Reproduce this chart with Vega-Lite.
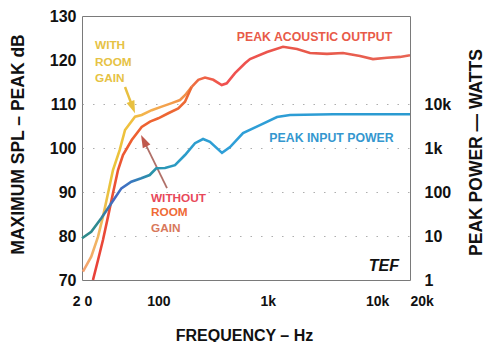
{
  "$schema": "https://vega.github.io/schema/vega-lite/v6.json",
  "width": 328,
  "height": 264,
  "autosize": {"type": "none"},
  "padding": {"left": 82, "top": 16, "right": 74, "bottom": 62},
  "background": "white",
  "config": {
    "view": {"stroke": "#7a7a7a", "strokeWidth": 1},
    "font": "Liberation Sans",
    "axis": {
      "labelFont": "Liberation Sans", "labelFontWeight": "bold", "labelColor": "#111",
      "titleFont": "Liberation Sans", "titleFontWeight": "bold", "titleColor": "#111",
      "domain": false, "labelOverlap": false, "labelFlush": false
    },
    "text": {"font": "Liberation Sans", "fontWeight": "bold", "fontSize": 12}
  },
  "datasets": {
    "withGain": [
      {"freq": 20.4, "db": 71.9}, {"freq": 24.3, "db": 75.3}, {"freq": 28.0, "db": 79.8},
      {"freq": 31.1, "db": 84.4}, {"freq": 34.6, "db": 89.7}, {"freq": 38.4, "db": 95.0},
      {"freq": 44.2, "db": 99.5}, {"freq": 49.5, "db": 104.1}, {"freq": 61.1, "db": 107.1},
      {"freq": 70.3, "db": 107.5}, {"freq": 86.8, "db": 108.6}, {"freq": 107.2, "db": 109.4},
      {"freq": 132.3, "db": 110.2}, {"freq": 157.6, "db": 110.9}, {"freq": 175, "db": 112.0},
      {"freq": 201.6, "db": 113.9}
    ],
    "withoutGain": [
      {"freq": 25.2, "db": 70.0}, {"freq": 28.0, "db": 74.5}, {"freq": 31.1, "db": 79.1},
      {"freq": 34.6, "db": 84.4}, {"freq": 38.4, "db": 89.7}, {"freq": 42.7, "db": 95.0},
      {"freq": 47.4, "db": 98.4}, {"freq": 57.0, "db": 101.8}, {"freq": 70.3, "db": 104.8},
      {"freq": 83.8, "db": 106.0}, {"freq": 99.8, "db": 106.75}, {"freq": 123.1, "db": 107.9},
      {"freq": 152, "db": 109.0}, {"freq": 175, "db": 110.5}, {"freq": 201.6, "db": 113.9}
    ],
    "output": [
      {"freq": 201.6, "db": 113.9}, {"freq": 231.6, "db": 115.5}, {"freq": 266.8, "db": 116.0},
      {"freq": 317.6, "db": 115.5}, {"freq": 379.2, "db": 114.3}, {"freq": 421.4, "db": 114.7},
      {"freq": 501.6, "db": 117.0}, {"freq": 619.4, "db": 119.25}, {"freq": 688, "db": 120.2},
      {"freq": 984, "db": 121.8}, {"freq": 1379, "db": 123.0}, {"freq": 1852, "db": 122.5},
      {"freq": 2434, "db": 121.6}, {"freq": 3482, "db": 121.4}, {"freq": 4878, "db": 121.6},
      {"freq": 6978, "db": 120.9}, {"freq": 9174, "db": 120.2}, {"freq": 12324, "db": 120.5},
      {"freq": 16202, "db": 120.7}, {"freq": 20000, "db": 121.1}
    ],
    "input": [
      {"freq": 20, "watts": 8.87}, {"freq": 24.3, "watts": 12.5}, {"freq": 30.0, "watts": 25.2},
      {"freq": 37.1, "watts": 55.3}, {"freq": 45.8, "watts": 121}, {"freq": 56.5, "watts": 171},
      {"freq": 69.7, "watts": 205}, {"freq": 83.2, "watts": 243}, {"freq": 95.6, "watts": 346},
      {"freq": 114.9, "watts": 351}, {"freq": 141.8, "watts": 407}, {"freq": 175, "watts": 692},
      {"freq": 216, "watts": 1288}, {"freq": 256, "watts": 1603}, {"freq": 296, "watts": 1380},
      {"freq": 381.6, "watts": 776}, {"freq": 452, "watts": 1047}, {"freq": 594, "watts": 2188},
      {"freq": 849, "watts": 3311}, {"freq": 1215, "watts": 5070}, {"freq": 1598, "watts": 5623},
      {"freq": 3952, "watts": 5850}, {"freq": 20000, "watts": 5850}
    ],
    "centerLabels": [
      {"text": "PEAK ACOUSTIC OUTPUT", "key": "output", "freq": 2676, "db": 125.2},
      {"text": "PEAK INPUT POWER", "key": "input", "freq": 3830, "db": 102.2}
    ],
    "notes": [
      {"text": "WITH", "key": "with", "freq": 26.3, "db": 123.4},
      {"text": "ROOM", "key": "with", "freq": 26.3, "db": 119.55},
      {"text": "GAIN", "key": "with", "freq": 26.3, "db": 115.9},
      {"text": "WITHOUT", "key": "without", "freq": 85.5, "db": 88.75},
      {"text": "ROOM", "key": "room", "freq": 85.5, "db": 85.45},
      {"text": "GAIN", "key": "gain", "freq": 85.5, "db": 81.9}
    ],
    "brand": [{"text": "TEF", "freq": 15866, "db": 73.2}],
    "arrowWith": [{"freq": 49.5, "db": 113.86, "freq2": 57.9, "db2": 109.4}],
    "arrowWithout": [{"freq": 119.8, "db": 90.9, "freq2": 74.0, "db2": 101.5}]
  },
  "layer": [
    {
      "encoding": {
        "x": {
          "field": "freq", "type": "quantitative",
          "scale": {"type": "log", "domain": [20, 20000], "nice": false},
          "axis": {
            "values": [20, 100, 1000, 10000, 20000], "grid": false, "ticks": false,
            "labelExpr": "datum.value == 20 ? '2 0' : datum.value >= 1000 ? format(datum.value / 1000, 'd') + 'k' : format(datum.value, 'd')",
            "labelFontSize": 14, "labelPadding": 14,
            "labelAlign": {"condition": {"test": "datum.value == 20000", "value": "left"}, "value": "center"},
            "title": "FREQUENCY – Hz", "titleFontSize": 16,
            "titleX": 162, "titleY": 55, "titleBaseline": "middle", "titleAlign": "center"
          }
        },
        "y": {
          "field": "db", "type": "quantitative",
          "scale": {"domain": [70, 130], "nice": false, "zero": false},
          "axis": {
            "values": [70, 80, 90, 100, 110, 120, 130], "ticks": false,
            "grid": true, "gridDash": [1.5, 9], "gridColor": "#9a9a9a", "gridWidth": 1.2,
            "gridOpacity": {"condition": {"test": "datum.value >= 80 && datum.value <= 110", "value": 0.8}, "value": 0},
            "labelFontSize": 16, "labelPadding": 6,
            "title": "MAXIMUM SPL – PEAK dB", "titleFontSize": 17.5,
            "titleAngle": -90, "titleX": -64, "titleY": 128, "titleBaseline": "middle", "titleAlign": "center"
          }
        }
      },
      "layer": [
        {
          "data": {"name": "withGain"},
          "mark": {"type": "line", "strokeWidth": 2.6, "color": {"gradient": "linear", "x1": 0, "y1": 0, "x2": 1, "y2": 0,
            "stops": [{"offset": 0, "color": "#f4a070"}, {"offset": 0.15, "color": "#f0b860"}, {"offset": 0.25, "color": "#e9c43a"}, {"offset": 0.45, "color": "#f0c040"}, {"offset": 0.6, "color": "#f4b050"}, {"offset": 1, "color": "#f08a48"}]}}
        },
        {
          "data": {"name": "withoutGain"},
          "mark": {"type": "line", "strokeWidth": 2.6, "color": {"gradient": "linear", "x1": 0, "y1": 0, "x2": 1, "y2": 0,
            "stops": [{"offset": 0, "color": "#e8403a"}, {"offset": 0.4, "color": "#ee6030"}, {"offset": 1, "color": "#ec6a35"}]}}
        },
        {
          "data": {"name": "output"},
          "mark": {"type": "line", "strokeWidth": 2.6, "color": {"gradient": "linear", "x1": 0, "y1": 0, "x2": 1, "y2": 0,
            "stops": [{"offset": 0, "color": "#ee7040"}, {"offset": 0.15, "color": "#f05050"}, {"offset": 0.5, "color": "#e8584a"}, {"offset": 1, "color": "#e86454"}]}}
        },
        {
          "data": {"name": "arrowWith"},
          "mark": {"type": "rule", "color": "#e8c040", "strokeWidth": 2.5},
          "encoding": {"x2": {"field": "freq2"}, "y2": {"field": "db2"}}
        },
        {
          "data": {"name": "arrowWith"},
          "mark": {"type": "point", "filled": true, "opacity": 1, "color": "#e8c040", "shape": "M0,-1 L0.6,0.8 L-0.6,0.8 Z", "size": 196, "angle": 159},
          "encoding": {"x": {"field": "freq2", "type": "quantitative"}, "y": {"field": "db2", "type": "quantitative"}}
        },
        {
          "data": {"name": "arrowWithout"},
          "mark": {"type": "rule", "color": "#b07068", "strokeWidth": 1.8},
          "encoding": {"x2": {"field": "freq2"}, "y2": {"field": "db2"}}
        },
        {
          "data": {"name": "arrowWithout"},
          "mark": {"type": "point", "filled": true, "opacity": 1, "color": "#c0584c", "shape": "M0,-1 L0.6,0.8 L-0.6,0.8 Z", "size": 196, "angle": 334},
          "encoding": {"x": {"field": "freq2", "type": "quantitative"}, "y": {"field": "db2", "type": "quantitative"}}
        },
        {
          "data": {"name": "centerLabels"},
          "mark": {"type": "text", "align": "center", "baseline": "middle", "fontSize": 12.3},
          "encoding": {
            "text": {"field": "text"},
            "color": {"field": "key", "type": "nominal", "legend": null,
              "scale": {"domain": ["output", "input", "with", "without", "room", "gain"], "range": ["#e85a48", "#3497cf", "#e6c244", "#e8485a", "#ef6a35", "#d8785c"]}}
          }
        },
        {
          "data": {"name": "notes"},
          "mark": {"type": "text", "align": "left", "baseline": "middle", "fontSize": 11.8},
          "encoding": {
            "text": {"field": "text"},
            "color": {"field": "key", "type": "nominal", "legend": null,
              "scale": {"domain": ["output", "input", "with", "without", "room", "gain"], "range": ["#e85a48", "#3497cf", "#e6c244", "#e8485a", "#ef6a35", "#d8785c"]}}
          }
        },
        {
          "data": {"name": "brand"},
          "mark": {"type": "text", "align": "right", "baseline": "middle", "fontSize": 16, "fontStyle": "italic", "color": "#111"},
          "encoding": {"text": {"field": "text"}}
        }
      ]
    },
    {
      "data": {"name": "input"},
      "mark": {"type": "line", "strokeWidth": 2.6, "color": {"gradient": "linear", "x1": 0, "y1": 0, "x2": 1, "y2": 0,
        "stops": [{"offset": 0, "color": "#2f8a88"}, {"offset": 0.05, "color": "#2e8a92"}, {"offset": 0.1, "color": "#4668c4"}, {"offset": 0.15, "color": "#3a78c0"}, {"offset": 0.21, "color": "#2a92a8"}, {"offset": 0.3, "color": "#2b9cc8"}, {"offset": 0.42, "color": "#2f9fd8"}, {"offset": 1, "color": "#2a9ad0"}]}},
      "encoding": {
        "x": {"field": "freq", "type": "quantitative", "scale": {"type": "log", "domain": [20, 20000], "nice": false}},
        "y": {
          "field": "watts", "type": "quantitative",
          "scale": {"type": "log", "domain": [1, 1000000], "nice": false},
          "axis": {
            "orient": "right", "ticks": false, "grid": false,
            "values": [1, 10, 100, 1000, 10000],
            "labelExpr": "datum.value >= 1000 ? format(datum.value / 1000, 'd') + 'k' : format(datum.value, 'd')",
            "labelFontSize": 16, "labelPadding": 14, "labelAlign": "left",
            "title": "PEAK POWER — WATTS", "titleFontSize": 17.5,
            "titleAngle": -90, "titleX": 66, "titleY": 136, "titleBaseline": "middle", "titleAlign": "center"
          }
        }
      }
    }
  ],
  "resolve": {"scale": {"y": "independent"}}
}
